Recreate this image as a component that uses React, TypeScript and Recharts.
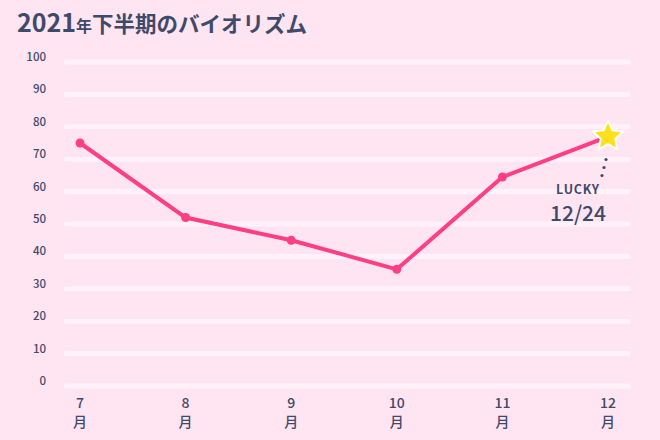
import { CartesianGrid, Line, LineChart, XAxis, YAxis } from 'recharts'

const months = ['7', '8', '9', '10', '11', '12']
const biorhythm = [75, 52, 45, 36, 64.5, 77]
const yTicks = [0, 10, 20, 30, 40, 50, 60, 70, 80, 90, 100]
const luckyLabel = 'LUCKY'
const luckyDate = '12/24'

const data = months.map((month, i) => ({ month, value: biorhythm[i] }))

const navy = '#3f4a6a'
const pink = '#ff3f82'
const font = '"Noto Sans CJK JP", "Noto Sans", sans-serif'

function starPath(cx: number, cy: number, outer: number, inner: number) {
  const pts: string[] = []
  for (let i = 0; i < 10; i++) {
    const r = i % 2 === 0 ? outer : inner
    const a = -Math.PI / 2 + (i * Math.PI) / 5
    pts.push(`${cx + r * Math.cos(a)},${cy + r * Math.sin(a)}`)
  }
  return `M${pts.join('L')}Z`
}

function PointDot(props: any) {
  const { cx, cy, index } = props
  if (index !== data.length - 1) {
    return <circle key={index} cx={cx} cy={cy} r={4.5} fill={pink} />
  }
  return (
    <g key={index}>
      <circle cx={cx - 2} cy={cy + 23} r={1.6} fill={navy} />
      <circle cx={cx - 4} cy={cy + 31} r={1.6} fill={navy} />
      <circle cx={cx - 6} cy={cy + 39} r={1.6} fill={navy} />
      <path
        d={starPath(cx, cy, 16, 7.6)}
        fill="#ffe01c"
        stroke="#ffffff"
        strokeWidth={2}
        strokeLinejoin="round"
      />
      <text x={cx - 30} y={cy + 57} textAnchor="middle" fill={navy} fontFamily={font} fontSize={12.5} fontWeight={700} letterSpacing={0.8}>
        {luckyLabel}
      </text>
      <text x={cx - 30} y={cy + 84} textAnchor="middle" fill={navy} fontFamily={font} fontSize={21} fontWeight={500}>
        {luckyDate}
      </text>
    </g>
  )
}

function MonthTick(props: any) {
  const { x, y, payload } = props
  return (
    <g>
      <text x={x} y={y + 14} textAnchor="middle" fill={navy} fontFamily={font} fontSize={14} fontWeight={500}>
        {payload.value}
      </text>
      <text x={x} y={y + 33} textAnchor="middle" fill={navy} fontFamily={font} fontSize={14} fontWeight={500}>
        月
      </text>
    </g>
  )
}

function ValueTick(props: any) {
  const { y, payload } = props
  return (
    <text x={46} y={y - 1} textAnchor="end" fill={navy} fontFamily={font} fontSize={11.5} fontWeight={500}>
      {payload.value}
    </text>
  )
}

export default function App() {
  return (
    <div
      style={{
        position: 'absolute',
        left: 0,
        top: 0,
        width: 660,
        height: 440,
        background: '#ffe4f1',
        fontFamily: font,
      }}
    >
      <div
        style={{
          position: 'absolute',
          left: 17,
          top: 3,
          color: navy,
          fontWeight: 700,
          whiteSpace: 'nowrap',
        }}
      >
        <span style={{ fontSize: 25 }}>2021</span>
        <span style={{ fontSize: 16 }}>年</span>
        <span style={{ fontSize: 21.5 }}>下半期のバイオリズム</span>
      </div>
      <LineChart
        width={660}
        height={440}
        data={data}
        margin={{ top: 62, right: 32, bottom: 0, left: 0 }}
        style={{ position: 'absolute', left: 0, top: 0 }}
      >
        <CartesianGrid
          vertical={false}
          stroke="rgba(255,255,255,0.5)"
          strokeWidth={5}
          strokeLinecap="round"
          horizontalValues={yTicks}
        />
        <XAxis
          dataKey="month"
          axisLine={false}
          tickLine={false}
          height={54}
          padding={{ left: 14, right: 20 }}
          tick={<MonthTick />}
          interval={0}
        />
        <YAxis
          domain={[0, 100]}
          ticks={yTicks}
          axisLine={false}
          tickLine={false}
          width={66}
          tick={<ValueTick />}
          interval={0}
        />
        <Line
          type="linear"
          dataKey="value"
          stroke={pink}
          strokeWidth={4}
          dot={PointDot}
          activeDot={false}
          isAnimationActive={false}
        />
      </LineChart>
    </div>
  )
}
